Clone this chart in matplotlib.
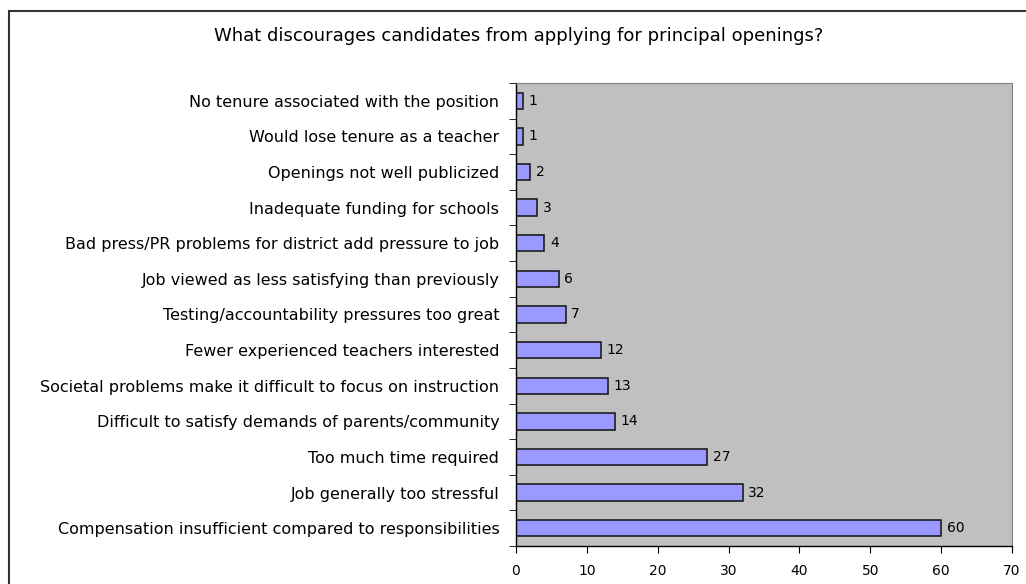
import matplotlib.pyplot as plt
from matplotlib.patches import Rectangle
import numpy as np

plt.rcParams['font.family'] = ['DejaVu Sans']

categories = [
    "Compensation insufficient compared to responsibilities",
    "Job generally too stressful",
    "Too much time required",
    "Difficult to satisfy demands of parents/community",
    "Societal problems make it difficult to focus on instruction",
    "Fewer experienced teachers interested",
    "Testing/accountability pressures too great",
    "Job viewed as less satisfying than previously",
    "Bad press/PR problems for district add pressure to job",
    "Inadequate funding for schools",
    "Openings not well publicized",
    "Would lose tenure as a teacher",
    "No tenure associated with the position",
]
values = [60, 32, 27, 14, 13, 12, 7, 6, 4, 3, 2, 1, 1]
x_ticks = [0, 10, 20, 30, 40, 50, 60, 70]
title = "What discourages candidates from applying for principal openings?"

W, H = 1026, 584
fig = plt.figure(figsize=(W / 100, H / 100), dpi=100)
fig.patch.set_facecolor('white')

# outer chart border (cut off on right and bottom like the source)
fig.add_artist(Rectangle((9 / W, -0.05), 1.2, 1 - 11 / H + 0.05,
                         transform=fig.transFigure, fill=False,
                         edgecolor='#333333', linewidth=1.5))

ax = fig.add_axes([516 / W, 1 - 546 / H, (1012 - 516) / W, (546 - 83) / H])
ax.set_facecolor('#C0C0C0')

y = np.arange(len(categories))
ax.barh(y, values, height=0.46, color='#9999FF', edgecolor='#111111', linewidth=1.1)
for yi, v in zip(y, values):
    ax.text(v + 0.8, yi, str(v), va='center', ha='left', fontsize=10)

ax.set_xlim(0, 70)
ax.set_ylim(-0.5, len(categories) - 0.5)
ax.set_xticks(x_ticks)
ax.set_xticklabels([str(t) for t in x_ticks], fontsize=10)
ax.set_yticks(y)
ax.set_yticklabels(categories, fontsize=11.5)
ax.set_yticks(np.arange(-0.5, len(categories)), minor=True)
ax.tick_params(axis='y', which='major', length=0, pad=12)
ax.tick_params(axis='y', which='minor', length=5, direction='out')
ax.tick_params(axis='x', length=5, direction='out', pad=8)

for s in ['left', 'bottom']:
    ax.spines[s].set_color('black')
    ax.spines[s].set_linewidth(1.0)
for s in ['top', 'right']:
    ax.spines[s].set_color('#808080')
    ax.spines[s].set_linewidth(0.8)

fig.text(519 / W, 1 - 36 / H, title, ha='center', va='center', fontsize=13)

fig.savefig('out.png', dpi=100)
